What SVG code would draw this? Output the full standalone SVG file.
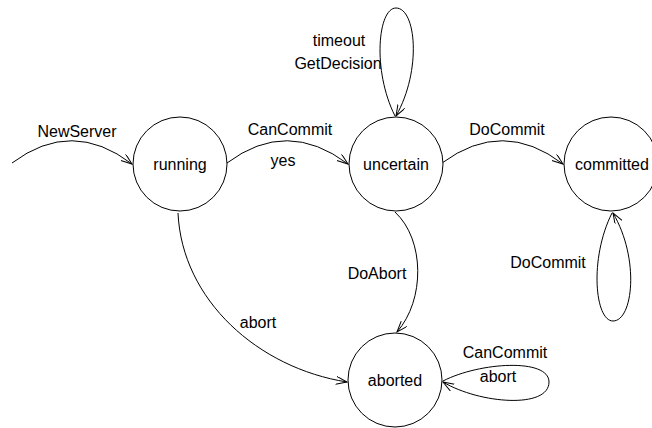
<svg xmlns="http://www.w3.org/2000/svg" width="652" height="428" viewBox="0 0 652 428">
<style>
text{font-family:"Liberation Sans",Arial,sans-serif;font-size:16px;fill:#000;text-anchor:middle}
.st circle{fill:#fff;stroke:#000;stroke-width:1}
#edges path{fill:none;stroke:#000;stroke-width:1;marker-end:url(#arr)}
</style>
<defs>
<marker id="arr" markerWidth="12" markerHeight="10" refX="11" refY="4" orient="auto" markerUnits="userSpaceOnUse">
<path d="M0,0 L11,4 L0,8" fill="none" stroke="#000" stroke-width="1"/>
</marker>
</defs>
<rect width="652" height="428" fill="#fff"/>
<g id="edges">
<path d="M12,163 Q72,118 132,164"/>
<path d="M227,163 Q287,118 348,164"/>
<path d="M442,163 Q503,118 563,164"/>
<path d="M178,213 C182,300 258,368 347,382"/>
<path d="M395,212 C425,240 425,300 397,332"/>
<path d="M395,116 C372,70 378,8 396,8 C416,8 422,70 396,116"/>
<path d="M612,213 C589,259 595,321 613,321 C633,321 640,259 613,213"/>
<path d="M443,381 C480,362 549,358 549,382 C549,409 480,404 443,382"/>
</g>
<g id="edge-labels">
<text x="77" y="137">NewServer</text>
<text x="290" y="135">CanCommit</text>
<text x="283" y="166">yes</text>
<text x="339" y="46">timeout</text>
<text x="338" y="69">GetDecision</text>
<text x="507" y="135">DoCommit</text>
<text x="548" y="268">DoCommit</text>
<text x="377" y="279">DoAbort</text>
<text x="258" y="328">abort</text>
<text x="505" y="358">CanCommit</text>
<text x="498" y="382">abort</text>
</g>
<g id="running" class="st"><circle cx="180" cy="164" r="47"/><text x="180" y="170">running</text></g>
<g id="uncertain" class="st"><circle cx="396" cy="164" r="47"/><text x="396" y="170">uncertain</text></g>
<g id="committed" class="st"><circle cx="611" cy="164" r="47"/><text x="612" y="170">committed</text></g>
<g id="aborted" class="st"><circle cx="395" cy="380" r="47"/><text x="395" y="386">aborted</text></g>
</svg>
